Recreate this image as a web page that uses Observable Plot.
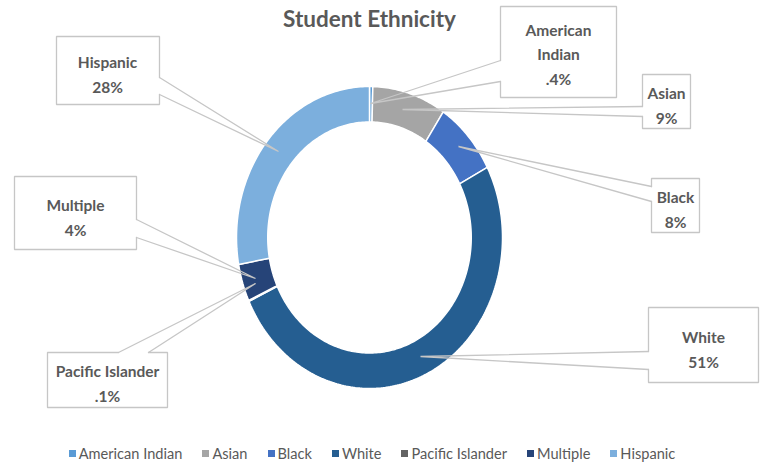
<!DOCTYPE html>
<html>
<head>
<meta charset="utf-8">
<script src="https://cdn.jsdelivr.net/npm/d3@7"></script>
<script src="https://cdn.jsdelivr.net/npm/@observablehq/plot@0.6"></script>
<style>
  html, body { margin: 0; padding: 0; background: #fff; }
  #wrap { position: relative; width: 764px; height: 463px; overflow: hidden; }
  #wrap > svg { position: absolute; left: 0; top: 0; }
  #legend { position: absolute; left: -10px; top: 440px; width: 764px; display: flex; justify-content: center; }
  #legend .lg-swatches { font: 14.6px Lato, sans-serif !important; color: #595959 !important; margin: 0 !important; min-height: 26px !important; justify-content: center; }
  #legend .lg-swatch { margin-right: 20px !important; }
  #legend .lg-swatch:last-child { margin-right: 0 !important; }
  #legend .lg-swatch > svg { margin-right: 3px !important; }
</style>
</head>
<body>
<div id="wrap"><div id="legend"></div></div>
<script>
// ---- data ----
const title = "Student Ethnicity";
const categories = ["American Indian", "Asian", "Black", "White", "Pacific Islander", "Multiple", "Hispanic"];
const shares = [0.4, 9, 8, 51, 0.1, 4, 28];
const shareLabels = [".4%", "9%", "8%", "51%", ".1%", "4%", "28%"];
const labelNames = ["American\nIndian", "Asian", "Black", "White", "Pacific Islander", "Multiple", "Hispanic"];
const colors = ["#5B9BD5", "#A5A5A5", "#4472C4", "#255E91", "#636363", "#264478", "#7CAFDD"];

// ---- layout (pixels of the callout boxes, manually placed as in the source) ----
const cx = 369, cy = 237, rx = 133, ry = 151;
const innerR = 0.765;
const titleY = 19;
const callouts = [
  {box: [500, 6, 616, 97],   side: "left",  base: [60, 81],   tip: [370, 103], text: [558, 52]},
  {box: [642, 74, 690, 128], side: "left",  base: [106, 116], tip: [402, 109], text: [666, 103]},
  {box: [651, 178, 699, 232], side: "left", base: [186, 201], tip: [458, 146], text: [675, 207]},
  {box: [648, 307, 758, 382], side: "left", base: [351, 369], tip: [420, 356], text: [703, 347]},
  {box: [47, 352, 167, 407], side: "top",   base: [118, 148], tip: [255, 283], text: [107, 381]},
  {box: [14, 176, 136, 249], side: "right", base: [219, 237], tip: [255, 278], text: [75, 215]},
  {box: [56, 36, 159, 104],  side: "right", base: [77, 94],   tip: [278, 151], text: [107, 72]}
];
const ux = (px) => (px - cx) / rx;
const uy = (py) => (cy - py) / ry;

// ---- donut geometry from the shares ----
const total = d3.sum(shares);
const ends = d3.cumsum(shares);
const arcs = [];
categories.forEach((cat, i) => {
  const a0 = (ends[i] - shares[i]) / total * 2 * Math.PI;
  const a1 = ends[i] / total * 2 * Math.PI;
  const n = Math.max(2, Math.ceil((a1 - a0) / (Math.PI / 180)));
  const pts = [];
  for (let k = 0; k <= n; k++) { const a = a0 + (a1 - a0) * k / n; pts.push([Math.sin(a), Math.cos(a)]); }
  for (let k = n; k >= 0; k--) { const a = a0 + (a1 - a0) * k / n; pts.push([innerR * Math.sin(a), innerR * Math.cos(a)]); }
  pts.push(pts[0]);
  pts.forEach(([x, y]) => arcs.push({cat, x, y}));
});

// ---- callout shapes ----
const boxPts = [], wedgePts = [], labels = [];
callouts.forEach((c, i) => {
  const [l, t, r, b] = c.box;
  let path, b1, b2;
  if (c.side === "left") {
    b1 = [l, c.base[0]]; b2 = [l, c.base[1]];
    path = [b1, [l, t], [r, t], [r, b], [l, b], b2];
  } else if (c.side === "right") {
    b1 = [r, c.base[0]]; b2 = [r, c.base[1]];
    path = [b1, [r, t], [l, t], [l, b], [r, b], b2];
  } else {
    b1 = [c.base[0], t]; b2 = [c.base[1], t];
    path = [b1, [l, t], [l, b], [r, b], [r, t], b2];
  }
  path.forEach(([px, py]) => boxPts.push({cat: categories[i], x: ux(px), y: uy(py)}));
  [b1, c.tip, b2].forEach(([px, py]) => wedgePts.push({cat: categories[i], x: ux(px), y: uy(py)}));
  labels.push({text: labelNames[i] + "\n" + shareLabels[i], x: ux(c.text[0]), y: uy(c.text[1])});
});

const color = {domain: categories, range: colors};

const plot = Plot.plot({
  width: 764,
  height: 463,
  margin: 0,
  x: {domain: [-1, 1], range: [cx - rx, cx + rx], axis: null},
  y: {domain: [-1, 1], range: [cy + ry, cy - ry], axis: null},
  color,
  style: {background: "transparent", overflow: "visible"},
  marks: [
    Plot.line(arcs, {x: "x", y: "y", z: "cat", fill: "cat", stroke: "white", strokeWidth: 1.5, strokeLinejoin: "miter", curve: "linear"}),
    Plot.line(boxPts, {x: "x", y: "y", z: "cat", fill: "white", stroke: "#c6c6c6", strokeWidth: 1.3, strokeLinejoin: "miter"}),
    Plot.line(wedgePts, {x: "x", y: "y", z: "cat", stroke: "#c6c6c6", strokeWidth: 1.3, strokeLinejoin: "miter"}),
    Plot.text(labels, {x: "x", y: "y", text: "text", fontFamily: "Lato", fontWeight: "bold", fontSize: 15.5, lineHeight: 1.6, fill: "#595959", lineAnchor: "middle"}),
    Plot.text([title], {x: () => 0, y: () => uy(titleY), lineAnchor: "middle", fontFamily: "Lato", fontWeight: "bold", fontSize: 22.5, fill: "#595959"})
  ]
});
document.getElementById("wrap").prepend(plot);

const legend = Plot.legend({color, legend: "swatches", swatchSize: 7, className: "lg"});
document.getElementById("legend").appendChild(legend);
</script>
</body>
</html>
